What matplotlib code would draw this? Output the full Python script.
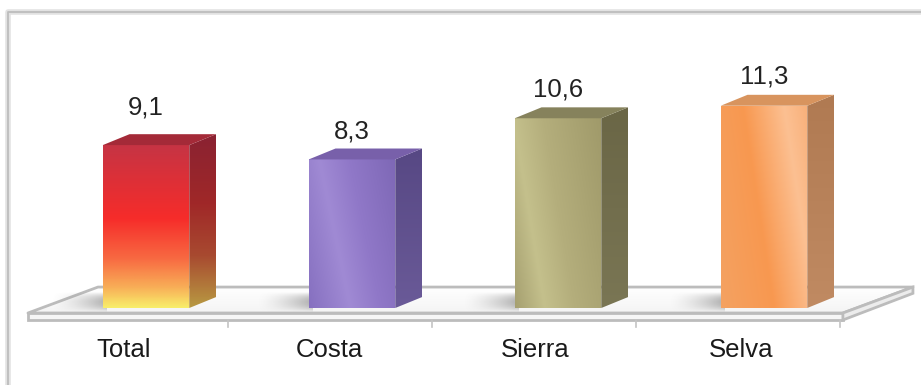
import numpy as np
import matplotlib.pyplot as plt
from matplotlib.patches import Polygon
from matplotlib.lines import Line2D
from matplotlib.colors import LinearSegmentedColormap

plt.rcParams['font.family'] = ['Liberation Sans', 'DejaVu Sans']

# datos
categorias = ['Total', 'Costa', 'Sierra', 'Selva']
valores = [9.1, 8.3, 10.6, 11.3]

# colores: cara frontal (degradado), lateral, superior
frente = [
    [(0, '#f8ee6a'), (0.12, '#f8b058'), (0.3, '#f86a42'), (0.55, '#f62c2a'), (0.8, '#dc3038'), (1, '#c63444')],
    [(0, '#8670c0'), (0.35, '#a08ad4'), (0.6, '#9078c8'), (1, '#7e68b6')],
    [(0, '#a6a070'), (0.25, '#c4c08c'), (0.5, '#b4ae7c'), (1, '#a09a6a')],
    [(0, '#f4a262'), (0.45, '#f89850'), (0.8, '#fcc092'), (1, '#f8b07a')],
]
lateral = [
    [(0, '#b89a42'), (0.3, '#a84a30'), (0.6, '#a02828'), (1, '#8a2232')],
    [(0, '#6a5a98'), (1, '#574884')],
    [(0, '#7a7654'), (1, '#6a6646')],
    [(0, '#c08a62'), (1, '#b07a52')],
]
arriba = ['#a42a38', '#7860aa', '#86825c', '#d8945e']

# geometria (unidades de datos)
ancho = 0.42
prof_x, prof_y = 0.13, 0.61
lift = [2.1, 1.55, 1.62, 1.62]

fig = plt.figure(figsize=(9.21, 3.85), dpi=100)
ax = fig.add_axes([0, 0, 1, 1])
ax.axis('off')


def degradado(verts, stops, ang=90, z=3):
    poly = Polygon(verts, closed=True, facecolor='none', edgecolor='none', zorder=z)
    ax.add_patch(poly)
    xs = [v[0] for v in verts]
    ys = [v[1] for v in verts]
    gx, gy = np.meshgrid(np.linspace(0, 1, 120), np.linspace(0, 1, 240))
    a = np.deg2rad(ang)
    t = np.cos(a) * gx + np.sin(a) * gy
    t = (t - t.min()) / (t.max() - t.min())
    cmap = LinearSegmentedColormap.from_list('g', stops)
    im = ax.imshow(t, cmap=cmap, extent=(min(xs), max(xs), min(ys), max(ys)),
                   origin='lower', aspect='auto', interpolation='bilinear', zorder=z)
    im.set_clip_path(poly)


# plataforma
fl, fr, bl, br = -0.573, 3.383, -0.233, 3.723
y_front, y_low, y_back = -0.28, -0.67, 1.17
degradado([(fl, y_front), (fr, y_front), (br, y_back), (bl, y_back)],
          [(0, '#f4f4f4'), (1, '#ffffff')], ang=90, z=1)
borde = dict(facecolor='none', edgecolor='#bcbcbc', lw=2, zorder=1.5, joinstyle='round')
ax.add_patch(Polygon([(fl, y_front), (fr, y_front), (br, y_back), (bl, y_back)], **borde))
ax.add_patch(Polygon([(fl, y_front), (fr, y_front), (fr, y_low), (fl, y_low)],
                     facecolor='#f6f6f6', edgecolor='#bcbcbc', lw=2, zorder=1.5))
ax.add_patch(Polygon([(fr, y_front), (br, y_back), (br, y_back - 0.35), (fr, y_low)],
                     facecolor='#ececec', edgecolor='#bcbcbc', lw=2, zorder=1.5))
for i in range(len(categorias)):
    xt = i + 0.4 - 0.01 * i
    ax.plot([xt, xt], [y_low, y_low - 0.4], color='#c4c4c4', lw=1.2, zorder=1.5)

# sombras
for i in range(len(categorias)):
    x0 = i - ancho / 2
    gx, gy = np.meshgrid(np.linspace(0, 1, 100), np.linspace(-1, 1, 60))
    alpha = 0.6 * gx ** 1.5 * np.clip(1 - gy ** 2, 0, 1)
    rgba = np.zeros(gx.shape + (4,))
    rgba[..., :3] = 0.5
    rgba[..., 3] = alpha
    ax.imshow(rgba, extent=(x0 - 0.25, x0 + 0.02, -0.2, 0.9), origin='lower',
              aspect='auto', interpolation='bilinear', zorder=2)

# barras
for i, v in enumerate(valores):
    x0, x1 = i - ancho / 2, i + ancho / 2
    degradado([(x0, 0), (x1, 0), (x1, v), (x0, v)], frente[i],
              ang=90 if i == 0 else 20, z=3)
    degradado([(x1, 0), (x1 + prof_x, prof_y), (x1 + prof_x, v + prof_y), (x1, v)],
              lateral[i], ang=90, z=3)
    ax.add_patch(Polygon([(x0, v), (x1, v), (x1 + prof_x, v + prof_y), (x0 + prof_x, v + prof_y)],
                         facecolor=arriba[i], edgecolor='none', zorder=3.5))
    ax.text(i, v + lift[i], f'{v:.1f}'.replace('.', ','), ha='center', va='center',
            fontsize=18.5, color='#222222', zorder=5)
    ax.text(i - 0.11, -2.35, categorias[i], ha='center', va='center',
            fontsize=18.5, color='#1a1a1a', zorder=5)

# marco
fx, fy = 8 / 921, 1 - 12 / 385
fig.add_artist(Line2D([fx, fx, 1], [0, fy, fy], color='#e2e2e2', lw=4, transform=fig.transFigure))
fig.add_artist(Line2D([fx, fx, 1], [0, fy, fy], color='#bdbdbd', lw=1.3, transform=fig.transFigure))

ax.set_xlim(-146 / 206, (921 - 146) / 206)
ax.set_ylim(-(385 - 308) / 17.9, 308 / 17.9)

fig.savefig('out.png', dpi=100)
